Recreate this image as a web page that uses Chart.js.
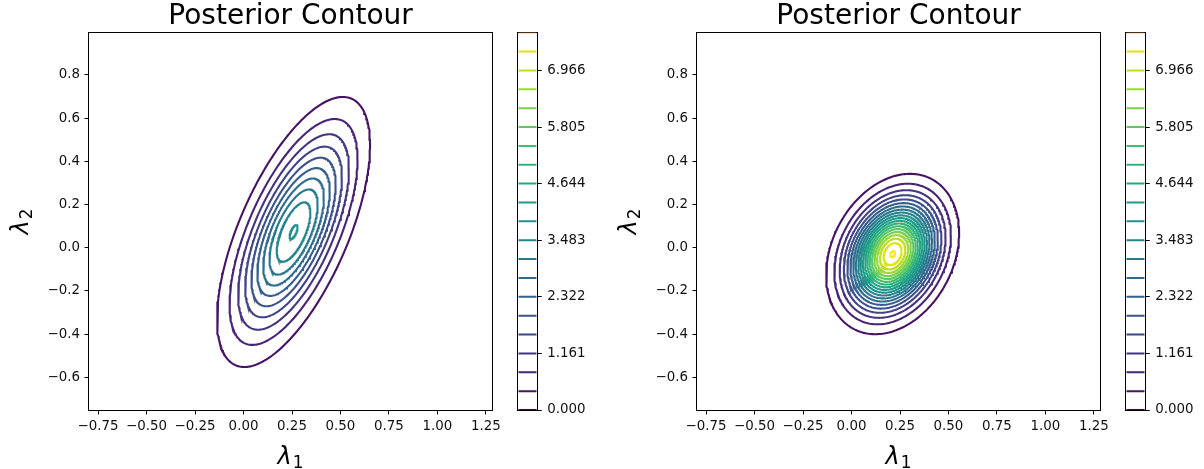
<!DOCTYPE html>
<html lang="en">
<head>
<meta charset="UTF-8">
<title>Posterior Contour</title>
<script src="https://cdn.jsdelivr.net/npm/chart.js"></script>
<style>
  body { margin: 0; background: #fff; }
  .wrap { position: relative; width: 1204px; height: 469px; overflow: hidden; }
  canvas { position: absolute; top: 0; }
</style>
</head>
<body>
<div class="wrap">
  <canvas id="contourLeft" width="505" height="469" style="left:0px"></canvas>
  <canvas id="barLeft" width="86" height="469" style="left:510px"></canvas>
  <canvas id="contourRight" width="505" height="469" style="left:608px"></canvas>
  <canvas id="barRight" width="86" height="469" style="left:1118px"></canvas>
</div>
<script>
// contour levels (step 0.387)
const levels = [0, 0.387, 0.774, 1.161, 1.548, 1.935, 2.322, 2.709, 3.096, 3.483, 3.870,
                4.257, 4.644, 5.031, 5.418, 5.805, 6.192, 6.579, 6.966, 7.353, 7.740];
const colorbarTicks = [0, 1.161, 2.322, 3.483, 4.644, 5.805, 6.966];
const xTicks = [-0.75, -0.5, -0.25, 0, 0.25, 0.5, 0.75, 1, 1.25];
const yTicks = [-0.6, -0.4, -0.2, 0, 0.2, 0.4, 0.6, 0.8];
const chartTitle = 'Posterior Contour';
const axisSymbol = 'λ';
const xSub = '1';
const ySub = '2';

// posterior (gaussian): mean, std devs, correlation
const leftMean = [0.258, 0.073];
const leftSd = [0.1836, 0.2908];
const leftRho = 0.6435;
const rightMean = [0.212, -0.029];
const rightSd = [0.140, 0.1515];
const rightRho = 0.26;

// viridis at each level
const levelColors = ['#440154', '#471365', '#482475', '#463480', '#414487', '#3b528b', '#355f8d',
                     '#2f6c8e', '#2a788e', '#25848e', '#21918c', '#1e9c89', '#22a884', '#2fb47c',
                     '#42be71', '#5ec962', '#7ad151', '#9bd93c', '#bddf26', '#dfe318', '#fde725'];

Chart.defaults.font.family = "'DejaVu Sans', sans-serif";
Chart.defaults.color = '#111';

const fmt = (v, d) => v.toFixed(d).replace('-', '\u2212');

function strokeFrame(chart) {
    const a = chart.chartArea;
    const ctx = chart.ctx;
    ctx.save();
    ctx.strokeStyle = '#000';
    ctx.lineWidth = 1;
    const l = Math.round(a.left) - 0.5, t = Math.round(a.top) - 0.5;
    ctx.strokeRect(l, t, Math.round(a.right) - Math.round(a.left) + 1, Math.round(a.bottom) - Math.round(a.top) + 1);
    ctx.restore();
}

// frame on top for the contour panels, under the lines for the colorbars
const framePlugin = { id: 'frame', afterDatasetsDraw: strokeFrame };
const frameUnderPlugin = { id: 'frameUnder', beforeDatasetsDraw: strokeFrame };

// λ with a subscript, like matplotlib mathtext
function drawSymbol(ctx, sub) {
    const big = "italic 24px 'DejaVu Sans'", small = "16.8px 'DejaVu Sans'";
    ctx.font = big;
    const w1 = ctx.measureText(axisSymbol).width;
    ctx.font = small;
    const w2 = ctx.measureText(sub).width;
    const x = -(w1 + w2 + 1) / 2;
    ctx.font = big;
    ctx.fillText(axisSymbol, x, 0);
    ctx.font = small;
    ctx.fillText(sub, x + w1 + 1, 4);
}

const axisLabelPlugin = {
    id: 'axisLabels',
    afterDraw(chart) {
        const a = chart.chartArea;
        const ctx = chart.ctx;
        ctx.save();
        ctx.fillStyle = '#000';
        ctx.textAlign = 'left';
        ctx.textBaseline = 'alphabetic';
        ctx.translate((a.left + a.right) / 2, 464);
        drawSymbol(ctx, xSub);
        ctx.restore();

        ctx.save();
        ctx.fillStyle = '#000';
        ctx.textAlign = 'left';
        ctx.textBaseline = 'alphabetic';
        ctx.translate(28, (a.top + a.bottom) / 2);
        ctx.rotate(-Math.PI / 2);
        drawSymbol(ctx, ySub);
        ctx.restore();
    }
};

// one closed line per level, along the density iso-line
function buildContours(mean, sd, rho) {
    const peak = 1 / (2 * Math.PI * sd[0] * sd[1] * Math.sqrt(1 - rho * rho));
    const sets = [];
    levels.forEach((lev, k) => {
        if (lev <= 0 || lev >= peak) return;
        const r = Math.sqrt(2 * Math.log(peak / lev));
        const pts = [];
        for (let i = 0; i <= 240; i++) {
            const t = i / 240 * 2 * Math.PI;
            const u = Math.cos(t), v = Math.sin(t);
            pts.push({
                x: mean[0] + sd[0] * r * u,
                y: mean[1] + sd[1] * r * (rho * u + Math.sqrt(1 - rho * rho) * v)
            });
        }
        sets.push({
            data: pts, borderColor: levelColors[k], borderWidth: 2.1,
            showLine: true, pointRadius: 0, fill: false, tension: 0
        });
    });
    return sets;
}

function makeContour(id, mean, sd, rho) {
    return new Chart(document.getElementById(id), {
        type: 'scatter',
        data: { datasets: buildContours(mean, sd, rho) },
        options: {
            responsive: false,
            animation: false,
            devicePixelRatio: 1,
            layout: { padding: { left: 0, right: 11.7, top: 0, bottom: 0 } },
            plugins: {
                legend: { display: false },
                tooltip: { enabled: false },
                title: {
                    display: true, text: chartTitle, fullSize: false, color: '#000',
                    font: { size: 28, weight: 'normal', lineHeight: 33 / 28 }, padding: 0
                }
            },
            scales: {
                x: {
                    type: 'linear', min: -0.797, max: 1.282,
                    afterBuildTicks: s => { s.ticks = xTicks.map(v => ({ value: v })); },
                    afterFit: s => { s.height = 59; },
                    ticks: { font: { size: 13.4 }, padding: 4, maxRotation: 0, autoSkip: false, callback: v => fmt(v, 2) },
                    grid: { drawOnChartArea: false, drawTicks: true, tickLength: 4.5, color: '#000' },
                    border: { display: false }
                },
                y: {
                    type: 'linear', min: -0.751, max: 0.994,
                    afterBuildTicks: s => { s.ticks = yTicks.map(v => ({ value: v })); },
                    afterFit: s => { s.width = 89; },
                    ticks: { font: { size: 13.4 }, padding: 4.5, autoSkip: false, callback: v => fmt(v, 1) },
                    grid: { drawOnChartArea: false, drawTicks: true, tickLength: 4.5, color: '#000' },
                    border: { display: false }
                }
            }
        },
        plugins: [framePlugin, axisLabelPlugin]
    });
}

function makeColorbar(id) {
    return new Chart(document.getElementById(id), {
        type: 'scatter',
        data: {
            datasets: levels.map((lev, k) => ({
                data: [{ x: 0, y: lev }, { x: 1, y: lev }],
                borderColor: levelColors[k], borderWidth: 2,
                showLine: true, pointRadius: 0, fill: false
            }))
        },
        options: {
            responsive: false,
            animation: false,
            devicePixelRatio: 1,
            layout: { padding: { left: 8.3, right: 0, top: 32.7, bottom: 59 } },
            plugins: { legend: { display: false }, tooltip: { enabled: false } },
            scales: {
                x: { type: 'linear', min: 0, max: 1, display: false },
                y: {
                    type: 'linear', position: 'right', min: 0, max: levels[levels.length - 1],
                    afterBuildTicks: s => { s.ticks = colorbarTicks.map(v => ({ value: v })); },
                    afterFit: s => { s.width = 86 - 8.3 - 18.4; },
                    ticks: { font: { size: 13.4 }, padding: 5.5, autoSkip: false, callback: v => v.toFixed(3) },
                    grid: { drawOnChartArea: false, drawTicks: true, tickLength: 5, color: '#000' },
                    border: { display: false }
                }
            }
        },
        plugins: [frameUnderPlugin]
    });
}

makeContour('contourLeft', leftMean, leftSd, leftRho);
makeColorbar('barLeft');
makeContour('contourRight', rightMean, rightSd, rightRho);
makeColorbar('barRight');
</script>
</body>
</html>
